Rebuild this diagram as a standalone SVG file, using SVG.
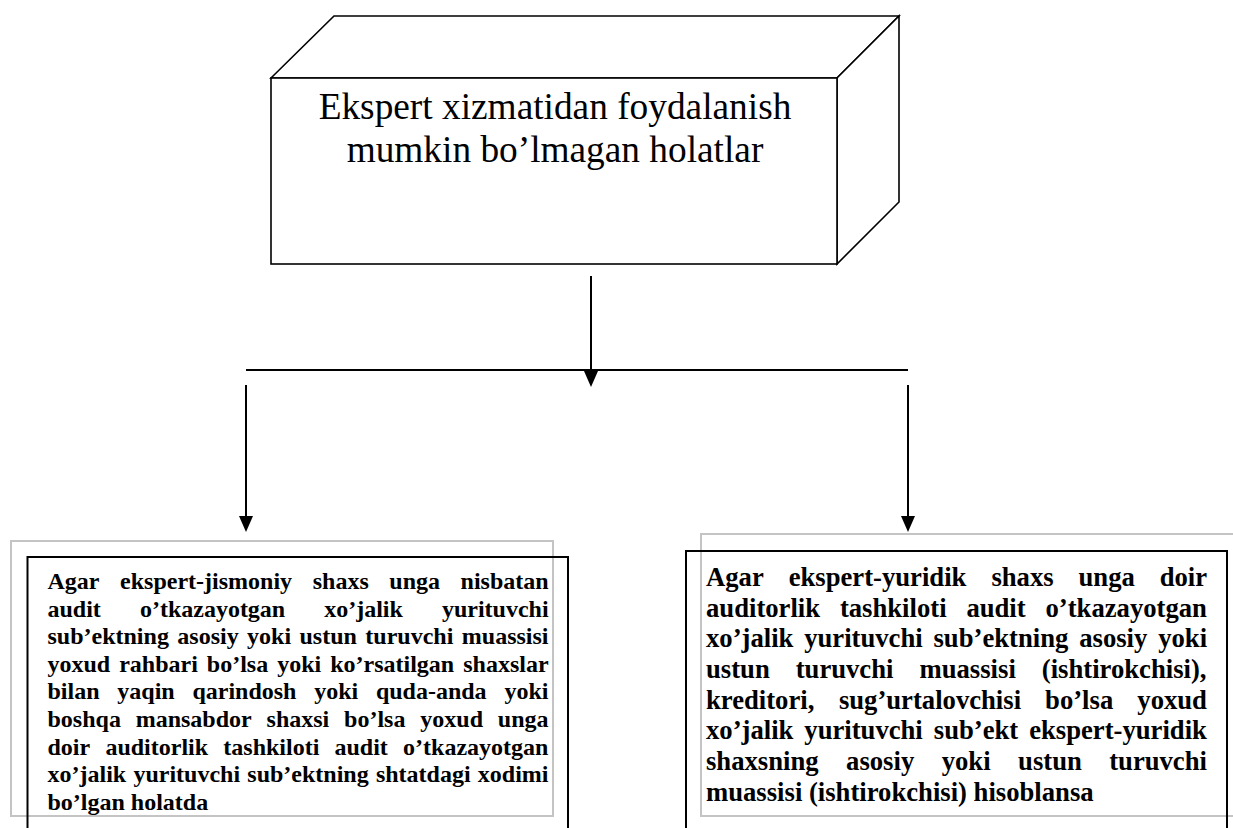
<svg xmlns="http://www.w3.org/2000/svg" width="1233" height="828" viewBox="0 0 1233 828">
<style>
.face{fill:#fff;stroke:#000;stroke-width:1.6}
.title{font-family:"Liberation Serif","Times New Roman",serif;font-size:37.33px;fill:#000;text-anchor:middle}
.gray{fill:none;stroke:#c4c4c4;stroke-width:2}
.blk{fill:none;stroke:#000;stroke-width:2}
.tl{font-family:"Liberation Serif","Times New Roman",serif;font-weight:bold;font-size:24px;fill:#000}
.tr{font-family:"Liberation Serif","Times New Roman",serif;font-weight:bold;font-size:26.67px;fill:#000}
.conn{stroke:#000;stroke-width:2;fill:none}
.head{fill:#000}
</style>
<rect width="1233" height="828" fill="#fff"/>

<g id="node-top">
<polygon class="face" points="271,78 334,16 899,16 837,78"/>
<polygon class="face" points="837,78 899,16 899,202 837,264"/>
<rect class="face" x="271" y="78" width="566" height="186"/>
<text class="title" x="555" y="119">Ekspert xizmatidan foydalanish</text>
<text class="title" x="555" y="162">mumkin bo’lmagan holatlar</text>
</g>

<g id="connectors">
<line class="conn" x1="591" y1="276" x2="591" y2="372"/>
<path class="head" d="M584,371 L598,371 L591,387 Z"/>
<line class="conn" x1="246" y1="370" x2="908" y2="370"/>
<line class="conn" x1="246" y1="385" x2="246" y2="517"/>
<path class="head" d="M239,516 L253,516 L246,532 Z"/>
<line class="conn" x1="908" y1="385" x2="908" y2="517"/>
<path class="head" d="M901,516 L915,516 L908,532 Z"/>
</g>

<g id="node-left">
<rect class="gray" x="11" y="541" width="542" height="275"/>
<rect class="blk" x="27.5" y="557" width="540.5" height="290"/>
<text class="tl" y="589"><tspan x="47.5">Agar</tspan><tspan x="120.1">ekspert-jismoniy</tspan><tspan x="312.7">shaxs</tspan><tspan x="389.3">unga</tspan><tspan x="460.6">nisbatan</tspan></text>
<text class="tl" y="616.6"><tspan x="47.5">audit</tspan><tspan x="139.9">o’tkazayotgan</tspan><tspan x="324.2">xo’jalik</tspan><tspan x="441.9">yurituvchi</tspan></text>
<text class="tl" y="644.2"><tspan x="47.5">sub’ektning</tspan><tspan x="177.3">asosiy</tspan><tspan x="247.1">yoki</tspan><tspan x="299.5">ustun</tspan><tspan x="365.3">turuvchi</tspan><tspan x="461.8">muassisi</tspan></text>
<text class="tl" y="671.8"><tspan x="47.5">yoxud</tspan><tspan x="119.2">rahbari</tspan><tspan x="206.8">bo’lsa</tspan><tspan x="277.2">yoki</tspan><tspan x="330.2">ko’rsatilgan</tspan><tspan x="463.2">shaxslar</tspan></text>
<text class="tl" y="699.4"><tspan x="47.5">bilan</tspan><tspan x="117.3">yaqin</tspan><tspan x="192.4">qarindosh</tspan><tspan x="314.2">yoki</tspan><tspan x="375.9">quda-anda</tspan><tspan x="504.4">yoki</tspan></text>
<text class="tl" y="727"><tspan x="47.5">boshqa</tspan><tspan x="135.7">mansabdor</tspan><tspan x="266.6">shaxsi</tspan><tspan x="344.1">bo’lsa</tspan><tspan x="420.3">yoxud</tspan><tspan x="497.8">unga</tspan></text>
<text class="tl" y="754.6"><tspan x="47.5">doir</tspan><tspan x="105.4">auditorlik</tspan><tspan x="223.3">tashkiloti</tspan><tspan x="334.5">audit</tspan><tspan x="403.1">o’tkazayotgan</tspan></text>
<text class="tl" y="782.2"><tspan x="47.5">xo’jalik</tspan><tspan x="133.4">yurituvchi</tspan><tspan x="247.3">sub’ektning</tspan><tspan x="375.9">shtatdagi</tspan><tspan x="477.8">xodimi</tspan></text>
<text class="tl" x="47.5" y="809.8">bo’lgan holatda</text>
</g>

<g id="node-right">
<rect class="gray" x="701" y="534" width="545" height="282"/>
<rect class="blk" x="686" y="551" width="541" height="300"/>
<text class="tr" y="586"><tspan x="706">Agar</tspan><tspan x="788.7">ekspert-yuridik</tspan><tspan x="991.4">shaxs</tspan><tspan x="1078.5">unga</tspan><tspan x="1159.7">doir</tspan></text>
<text class="tr" y="616.7"><tspan x="706">auditorlik</tspan><tspan x="839.9">tashkiloti</tspan><tspan x="966.4">audit</tspan><tspan x="1045.5">o’tkazayotgan</tspan></text>
<text class="tr" y="647.3"><tspan x="706">xo’jalik</tspan><tspan x="804.2">yurituvchi</tspan><tspan x="933.5">sub’ektning</tspan><tspan x="1079.2">asosiy</tspan><tspan x="1158.2">yoki</tspan></text>
<text class="tr" y="678"><tspan x="706">ustun</tspan><tspan x="795.7">turuvchi</tspan><tspan x="919.5">muassisi</tspan><tspan x="1041.8">(ishtirokchisi),</tspan></text>
<text class="tr" y="708.7"><tspan x="706">kreditori,</tspan><tspan x="838.9">sug’urtalovchisi</tspan><tspan x="1045.1">bo’lsa</tspan><tspan x="1137.3">yoxud</tspan></text>
<text class="tr" y="739.3"><tspan x="706">xo’jalik</tspan><tspan x="804.3">yurituvchi</tspan><tspan x="933.8">sub’ekt</tspan><tspan x="1029.2">ekspert-yuridik</tspan></text>
<text class="tr" y="770"><tspan x="706">shaxsning</tspan><tspan x="846.1">asosiy</tspan><tspan x="941.7">yoki</tspan><tspan x="1018.1">ustun</tspan><tspan x="1109.2">turuvchi</tspan></text>
<text class="tr" x="706" y="800.7">muassisi (ishtirokchisi) hisoblansa</text>
</g>
</svg>
